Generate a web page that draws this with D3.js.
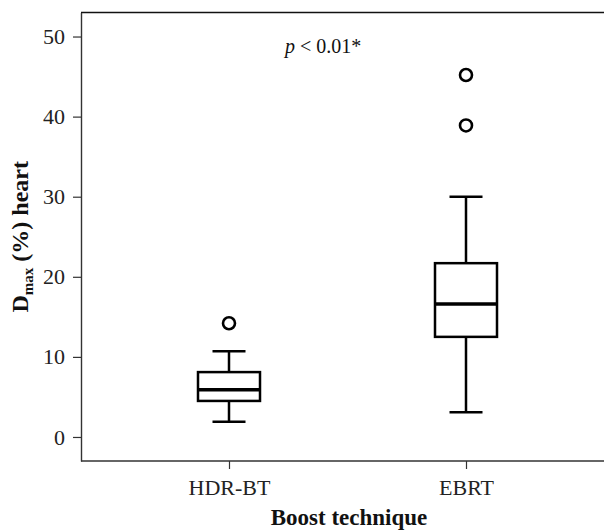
<!DOCTYPE html>
<html>
<head>
<meta charset="utf-8">
<script src="https://cdn.jsdelivr.net/npm/d3@7"></script>
<style>
  body { margin: 0; background: #fff; }
  svg { display: block; font-family: "Liberation Serif", "Times New Roman", serif; }
</style>
</head>
<body>
<svg></svg>
<script>
// Data
const categories = ["HDR-BT", "EBRT"];
const whiskerLow = [1.9, 3.1];
const quartile1 = [4.5, 12.5];
const medians = [5.9, 16.6];
const quartile3 = [8.1, 21.7];
const whiskerHigh = [10.7, 30.0];
const outliers = [[14.2], [38.9, 45.2]];
const yTicks = [0, 10, 20, 30, 40, 50];

const width = 604;
const height = 530;
const margin = { top: 12.5, right: 0, bottom: 69, left: 81 };

const svg = d3.select("svg")
  .attr("width", width)
  .attr("height", height);

// Scales
const x = d3.scalePoint()
  .domain(categories)
  .range([229, 466]);

const y = d3.scaleLinear()
  .domain([-3, 53])
  .range([height - margin.bottom, margin.top]);

const boxW = 62;
const capW = 33;

// Frame: left, top and bottom lines (no right border)
svg.append("line")
  .attr("x1", margin.left).attr("x2", width)
  .attr("y1", margin.top).attr("y2", margin.top)
  .attr("stroke", "#111").attr("stroke-width", 1.6);
svg.append("line")
  .attr("x1", margin.left).attr("x2", width)
  .attr("y1", height - margin.bottom).attr("y2", height - margin.bottom)
  .attr("stroke", "#333").attr("stroke-width", 1.4);

// Y axis
const yAxis = svg.append("g")
  .attr("transform", `translate(${margin.left},0)`)
  .call(d3.axisLeft(y).tickValues(yTicks).tickSize(8).tickSizeOuter(0).tickPadding(8));
yAxis.select(".domain").attr("stroke", "#333").attr("stroke-width", 1.4);
yAxis.selectAll(".tick line").attr("stroke", "#333").attr("stroke-width", 1.2);
yAxis.selectAll(".tick text")
  .attr("font-size", 22)
  .attr("font-family", "Liberation Serif")
  .attr("fill", "#222");

// X axis
const xAxis = svg.append("g")
  .attr("transform", `translate(0,${height - margin.bottom})`)
  .call(d3.axisBottom(x).tickSize(8).tickSizeOuter(0).tickPadding(10));
xAxis.select(".domain").remove();
xAxis.selectAll(".tick line").attr("stroke", "#333").attr("stroke-width", 1.2);
xAxis.selectAll(".tick text")
  .attr("font-size", 22)
  .attr("font-family", "Liberation Serif")
  .attr("fill", "#222");

// Boxes
const boxes = categories.map((c, i) => ({
  cat: c, lo: whiskerLow[i], q1: quartile1[i], med: medians[i],
  q3: quartile3[i], hi: whiskerHigh[i], out: outliers[i]
}));

const g = svg.append("g")
  .attr("stroke", "#000")
  .attr("fill", "none");

boxes.forEach(d => {
  const cx = x(d.cat);
  // whiskers
  g.append("line")
    .attr("x1", cx).attr("x2", cx)
    .attr("y1", y(d.hi)).attr("y2", y(d.q3))
    .attr("stroke-width", 2.5);
  g.append("line")
    .attr("x1", cx).attr("x2", cx)
    .attr("y1", y(d.q1)).attr("y2", y(d.lo))
    .attr("stroke-width", 2.5);
  // caps
  [d.hi, d.lo].forEach(v => {
    g.append("line")
      .attr("x1", cx - capW / 2).attr("x2", cx + capW / 2)
      .attr("y1", y(v)).attr("y2", y(v))
      .attr("stroke-width", 2.5);
  });
  // box
  g.append("rect")
    .attr("x", cx - boxW / 2)
    .attr("y", y(d.q3))
    .attr("width", boxW)
    .attr("height", y(d.q1) - y(d.q3))
    .attr("fill", "#fff")
    .attr("stroke-width", 2.5);
  // median
  g.append("line")
    .attr("x1", cx - boxW / 2).attr("x2", cx + boxW / 2)
    .attr("y1", y(d.med)).attr("y2", y(d.med))
    .attr("stroke-width", 3.5);
  // outliers
  d.out.forEach(v => {
    g.append("circle")
      .attr("cx", cx).attr("cy", y(v))
      .attr("r", 6)
      .attr("stroke-width", 2.6);
  });
});

// p-value annotation
const pText = svg.append("text")
  .attr("x", 285)
  .attr("y", 53)
  .attr("font-size", 20)
  .attr("fill", "#111");
pText.append("tspan").attr("font-style", "italic").text("p");
pText.append("tspan").text(" < 0.01*");

// Axis titles
svg.append("text")
  .attr("x", 349)
  .attr("y", 525)
  .attr("text-anchor", "middle")
  .attr("font-size", 23)
  .attr("font-weight", "bold")
  .attr("fill", "#111")
  .text("Boost technique");

const yl = svg.append("text")
  .attr("transform", `translate(28,${(margin.top + height - margin.bottom) / 2}) rotate(-90)`)
  .attr("text-anchor", "middle")
  .attr("font-size", 24)
  .attr("font-weight", "bold")
  .attr("fill", "#111");
yl.append("tspan").text("D");
yl.append("tspan").attr("font-size", 15).attr("dy", 5).text("max");
yl.append("tspan").attr("dy", -5).text(" (%) heart");
</script>
</body>
</html>
